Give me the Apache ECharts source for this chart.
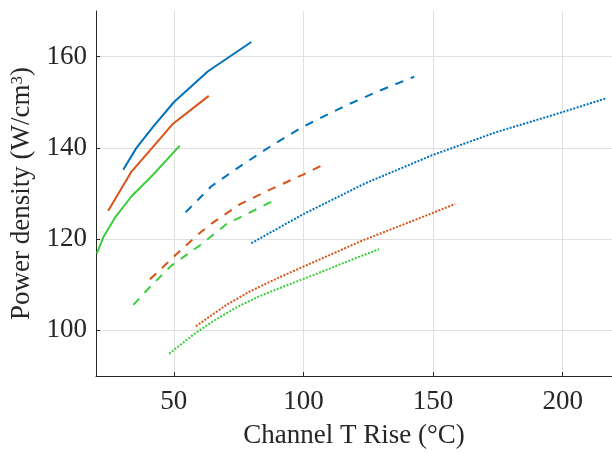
<!DOCTYPE html>
<html>
<head>
<meta charset="utf-8">
<script src="https://cdn.jsdelivr.net/npm/echarts@6/dist/echarts.min.js"></script>
<style>html,body{margin:0;padding:0;background:#fff}#c{width:612px;height:454px}</style>
</head>
<body>
<div id="c"></div>
<script>
// Tick labels
const xTicks = [50, 100, 150, 200];
const yTicks = [100, 120, 140, 160];

// Solid lines
const blueSolidX = [30.5, 35.6, 42.0, 50.0, 63.2, 79.9];
const blueSolidY = [135.2, 140.0, 144.6, 150.0, 156.8, 163.2];
const orangeSolidX = [24.7, 33.7, 42.0, 49.7, 63.5];
const orangeSolidY = [126.2, 134.8, 140.2, 145.3, 151.4];
const greenSolidX = [20.3, 22.8, 27.3, 33.7, 42.0, 52.3];
const greenSolidY = [116.8, 120.4, 124.7, 129.4, 134.1, 140.5];

// Dashed lines
const blueDashX = [54.6, 60.0, 64.5, 75.4, 86.9, 99.7, 116.4, 129.2, 142.7];
const blueDashY = [125.9, 129.0, 131.6, 135.9, 140.2, 144.6, 149.3, 152.5, 155.6];
const orangeDashX = [40.8, 44.6, 49.7, 59.3, 64.5, 75.4, 86.9, 99.7, 107.7];
const orangeDashY = [111.2, 113.2, 116.0, 121.0, 123.4, 127.6, 130.8, 134.1, 136.3];
const greenDashX = [34.4, 40.8, 49.1, 60.0, 70.3, 83.1, 89.5];
const greenDashY = [105.6, 109.5, 114.2, 118.6, 123.3, 126.9, 128.7];

// Dotted lines
const blueDotX = [79.9, 99.7, 124.1, 149.7, 174.1, 199.7, 216.4];
const blueDotY = [119.1, 125.4, 132.3, 138.4, 143.4, 147.8, 150.8];
const orangeDotX = [58.5, 63.8, 70.3, 79.2, 89.5, 99.7, 122.8, 149.7, 158.5];
const orangeDotY = [100.9, 103.0, 105.6, 108.5, 111.3, 113.9, 119.7, 125.7, 127.7];
const greenDotX = [48.2, 57.4, 65.1, 75.4, 83.1, 95.9, 105.5, 115.1, 129.2];
const greenDotY = [94.9, 99.0, 102.0, 105.4, 107.5, 110.4, 112.5, 114.7, 117.8];

const BLUE = '#0072BD', ORANGE = '#D95319', GREEN = '#3ACE3A';
const AX = '#262626', GRID = '#dfdfdf';
const FONT = 'Liberation Serif';

function zip(xs, ys) { return xs.map((x, i) => [x, ys[i]]); }
function line(xs, ys, color, type) {
  return {
    type: 'line', data: zip(xs, ys), showSymbol: false, smooth: false,
    lineStyle: { color: color, width: 2, type: type, cap: 'butt', join: 'round' },
    silent: true, animation: false
  };
}

const chart = echarts.init(document.getElementById('c'), null, { renderer: 'canvas' });
chart.setOption({
  animation: false,
  backgroundColor: '#fff',
  grid: { left: 96, top: 11, right: 0, bottom: 75, containLabel: false },
  xAxis: {
    type: 'value', min: 20, max: 219,
    name: 'Channel T Rise (°C)', nameLocation: 'middle', nameGap: 46,
    nameTextStyle: { fontFamily: FONT, fontSize: 27, color: AX },
    axisLine: { show: true, lineStyle: { color: AX, width: 1 } },
    axisTick: { show: true, inside: true, length: 4, customValues: xTicks, lineStyle: { color: AX } },
    axisLabel: { customValues: xTicks, fontFamily: FONT, fontSize: 27, color: AX, margin: 12 },
    splitLine: { show: true, customValues: xTicks, lineStyle: { color: GRID, width: 1 } }
  },
  yAxis: {
    type: 'value', min: 90, max: 170,
    name: 'Power density (W/cm{sup|3})', nameLocation: 'middle', nameGap: 47,
    nameTextStyle: { fontFamily: FONT, fontSize: 27, color: AX,
      rich: { sup: { fontFamily: FONT, fontSize: 17, color: AX, verticalAlign: 'top', lineHeight: 27 } } },
    axisLine: { show: true, lineStyle: { color: AX, width: 1 } },
    axisTick: { show: true, inside: true, length: 4, customValues: yTicks, lineStyle: { color: AX } },
    axisLabel: { customValues: yTicks, fontFamily: FONT, fontSize: 27, color: AX, margin: 9 },
    splitLine: { show: true, customValues: yTicks, lineStyle: { color: GRID, width: 1 } }
  },
  series: [
    line(blueSolidX, blueSolidY, BLUE, 'solid'),
    line(orangeSolidX, orangeSolidY, ORANGE, 'solid'),
    line(greenSolidX, greenSolidY, GREEN, 'solid'),
    line(blueDashX, blueDashY, BLUE, [8.5, 8]),
    line(orangeDashX, orangeDashY, ORANGE, [8.5, 8]),
    line(greenDashX, greenDashY, GREEN, [8.5, 8]),
    line(blueDotX, blueDotY, BLUE, [2, 1.5]),
    line(orangeDotX, orangeDotY, ORANGE, [2, 1.5]),
    line(greenDotX, greenDotY, GREEN, [2, 1.5])
  ]
});
</script>
</body>
</html>
